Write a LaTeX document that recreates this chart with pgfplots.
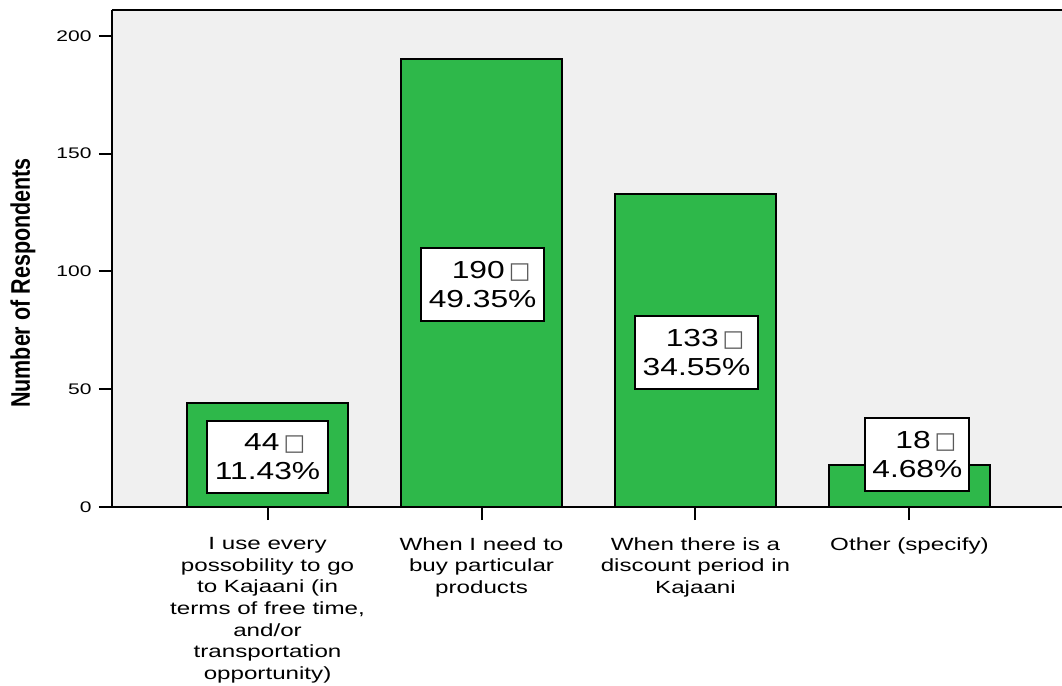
\documentclass[border=0pt]{standalone}
\usepackage{fontspec}
\setmainfont{Liberation Sans}[FakeStretch=1.37]
\newfontfamily\boxf{Liberation Sans}[FakeStretch=1.29]
\newfontfamily\ylf{Liberation Sans}[FakeStretch=0.8]
\newfontfamily\djv{DejaVu Sans}
\usepackage{pgfplots}
\pgfplotsset{compat=1.18}
\definecolor{bargreen}{RGB}{46,184,74}
\definecolor{bggray}{RGB}{240,240,240}
\newcommand{\sq}{{\djv\fontsize{23}{23}\selectfont\textcolor{black!65}{□}}}
\tikzset{lbl/.style={draw=black, line width=2bp, fill=white, align=right,
     font=\boxf\fontsize{24.7}{29}\selectfont, inner xsep=8bp, inner ysep=13bp}}
\begin{document}
\begin{tikzpicture}
\begin{axis}[
  scale only axis, width=950bp, height=497bp,
  xmin=-0.727, xmax=3.713, ymin=0, ymax=211,
  axis lines=left, axis line style={-, line width=2bp, black},
  axis background/.style={fill=bggray},
  ytick={0,50,100,150,200},
  xtick={0,1,2,3},
  xticklabels={{I use every\\possobility to go\\to Kajaani (in\\terms of free time,\\and/or\\transportation\\opportunity)},
               {When I need to\\buy particular\\products},
               {When there is a\\discount period in\\Kajaani},
               {Other (specify)}},
  tick align=outside, major tick length=13bp,
  tick style={line width=2bp, black},
  /pgf/number format/assume math mode=true,
  yticklabel style={font=\fontsize{15.4}{18}\selectfont, xshift=-4bp},
  xticklabel style={font=\fontsize{17.7}{21.7}\selectfont, align=center, yshift=-14bp},
  ylabel={\ylf\bfseries\fontsize{27}{27}\selectfont Number of Respondents},
  ylabel style={at={(axis description cs:-0.0937,0.4507)}, anchor=center},
  ybar, bar width=161bp,
  clip=false,
]
\addplot[fill=bargreen, draw=black, line width=2bp] coordinates {(0,44) (1,190) (2,133) (3,18)};
\draw[line width=2bp] (rel axis cs:0,1) -- (rel axis cs:1,1);
\node[lbl] at (axis cs:0,21.2) {44\hspace{4bp}\sq\hspace*{15bp}\\11.43\%};
\node[lbl] at (axis cs:1.005,94.5) {190\hspace{4bp}\sq\hspace*{6bp}\\49.35\%};
\node[lbl] at (axis cs:2.005,65.6) {133\hspace{4bp}\sq\hspace*{6bp}\\34.55\%};
\node[lbl, inner xsep=7bp] at (axis cs:3.037,22.3) {18\hspace{4bp}\sq\hspace*{6bp}\\4.68\%};
\end{axis}
\pgfresetboundingbox
\path[use as bounding box] ([shift={(-112bp,-179bp)}]current axis.south west) rectangle ([shift={(950bp,507bp)}]current axis.south west);
\end{tikzpicture}
\end{document}
